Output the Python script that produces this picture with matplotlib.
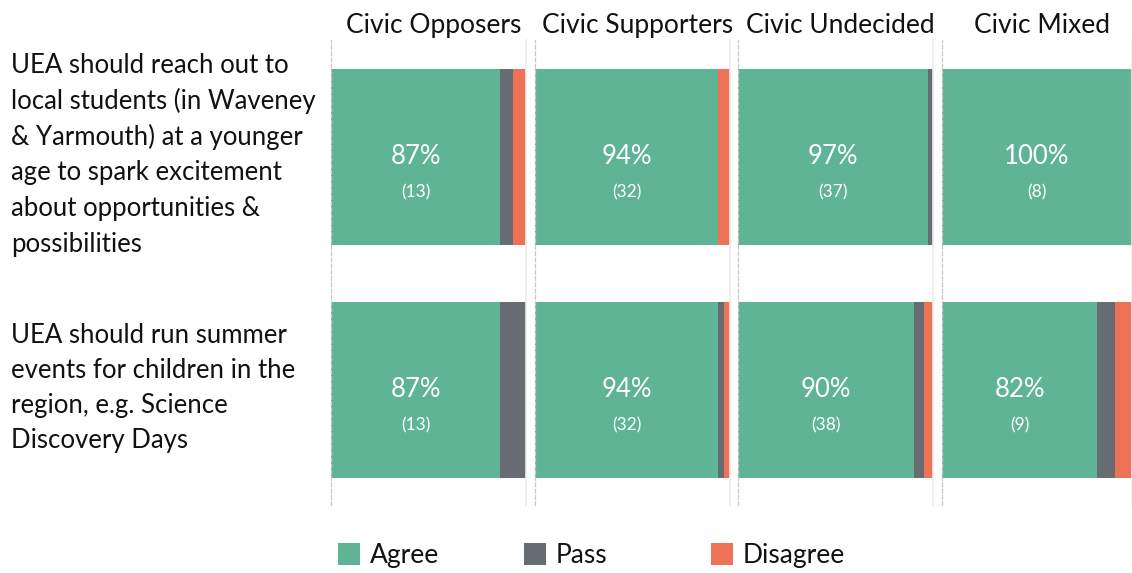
import matplotlib
matplotlib.use("Agg")
import matplotlib.pyplot as plt
from matplotlib.patches import Rectangle
from matplotlib.transforms import offset_copy

plt.rcParams['font.family'] = ['Lato', 'DejaVu Sans']

groups = ["Civic Opposers", "Civic Supporters", "Civic Undecided", "Civic Mixed"]
statements = [
    "UEA should reach out to\nlocal students (in Waveney\n& Yarmouth) at a younger\nage to spark excitement\nabout opportunities &\npossibilities",
    "UEA should run summer\nevents for children in the\nregion, e.g. Science\nDiscovery Days",
]
series = ["Agree", "Pass", "Disagree"]
# percentages per group, per statement
agree = [[86.7, 86.7], [94.1, 94.1], [97.4, 90.5], [100.0, 81.8]]
pass_ = [[6.7, 13.3], [0.0, 2.95], [2.6, 4.75], [0.0, 9.1]]
disagree = [[6.6, 0.0], [5.9, 2.95], [0.0, 4.75], [0.0, 9.1]]
pct_labels = [["87%", "87%"], ["94%", "94%"], ["97%", "90%"], ["100%", "82%"]]
count_labels = [["(13)", "(13)"], ["(32)", "(32)"], ["(37)", "(38)"], ["(8)", "(9)"]]

colors = {"Agree": "#5EB495", "Pass": "#676B72", "Disagree": "#EE7256"}
text_color = "#111111"

W, H = 1132, 573
fig = plt.figure(figsize=(W / 100, H / 100), dpi=100)

lefts = [331, 535, 738, 942]
widths = [195, 195, 195, 190]
top_px, bot_px = 40, 505
centers_px = [157, 390]
spacing = centers_px[1] - centers_px[0]
bar_h = 176 / spacing
ylim_top = -(centers_px[0] - top_px) / spacing
ylim_bot = (bot_px - centers_px[1]) / spacing + 1

for gi, g in enumerate(groups):
    ax = fig.add_axes([lefts[gi] / W, 1 - bot_px / H, widths[gi] / W, (bot_px - top_px) / H])
    ypos = [0, 1]
    a = agree[gi]
    p = pass_[gi]
    d = disagree[gi]
    ax.barh(ypos, a, height=bar_h, color=colors["Agree"], linewidth=0)
    ax.barh(ypos, p, left=a, height=bar_h, color=colors["Pass"], linewidth=0)
    ax.barh(ypos, d, left=[x + y for x, y in zip(a, p)], height=bar_h, color=colors["Disagree"], linewidth=0)
    tr_pct = offset_copy(ax.transData, fig=fig, x=0, y=-7 * 72 / 100, units="points")
    tr_cnt = offset_copy(ax.transData, fig=fig, x=0, y=-40 * 72 / 100, units="points")
    for yi in ypos:
        ax.text(a[yi] / 2, yi, pct_labels[gi][yi], color="white", fontsize=18.5,
                ha="center", va="baseline", transform=tr_pct)
        ax.text(a[yi] / 2, yi, count_labels[gi][yi], color="white", fontsize=12.5,
                ha="center", va="baseline", transform=tr_cnt)
    ax.set_xlim(0, 100)
    ax.set_ylim(ylim_bot, ylim_top)
    ax.set_xticks([])
    ax.set_yticks([])
    for s in ["top", "bottom"]:
        ax.spines[s].set_visible(False)
    ax.spines["left"].set_linestyle((0, (3, 2)))
    ax.spines["left"].set_color("#c8c8c8")
    ax.spines["left"].set_linewidth(0.9)
    ax.spines["right"].set_color("#ececec")
    ax.spines["right"].set_linewidth(1.2)
    cx = (lefts[gi] + widths[gi] / 2 + 5) / W
    fig.text(cx, 1 - 33 / H, g, ha="center", va="baseline", fontsize=19, color=text_color)

# statement labels, one line at a time
first_baselines = [73.3, 343]
line_steps = [35.7, 35.0]
for si, s in enumerate(statements):
    for li, line in enumerate(s.split("\n")):
        y = first_baselines[si] + li * line_steps[si]
        fig.text(11 / W, 1 - y / H, line, ha="left", va="baseline", fontsize=18.5,
                 color=text_color)

# legend
leg_sq = [338, 524, 711]
sq_top, sq = 543, 22
leg_base = 563
for i, name in enumerate(series):
    fig.patches.append(Rectangle((leg_sq[i] / W, 1 - (sq_top + sq) / H), sq / W, sq / H,
                                 transform=fig.transFigure, color=colors[name], linewidth=0))
    fig.text((leg_sq[i] + sq + 10) / W, 1 - leg_base / H, name, ha="left", va="baseline",
             fontsize=19, color=text_color)

fig.savefig("out.png", dpi=100, facecolor="white")
